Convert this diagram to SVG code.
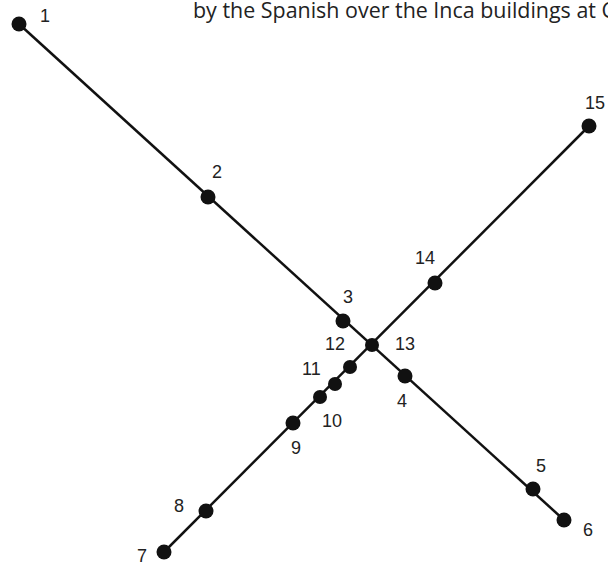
<svg xmlns="http://www.w3.org/2000/svg" width="608" height="565" viewBox="0 0 608 565">
<style>
.ln{stroke:#111;stroke-width:2.5;fill:none}
.dot{fill:#111}
.lbl{font-family:"Liberation Sans","DejaVu Sans",sans-serif;font-size:18px;fill:#222}
.cap{font-family:"Open Sans","Liberation Sans",sans-serif;font-size:21px;fill:#222}
</style>
<rect width="608" height="565" fill="#fff"/>
<text class="cap" x="193" y="18" textLength="422" lengthAdjust="spacingAndGlyphs">by the Spanish over the Inca buildings at C</text>
<g id="connectors">
<line class="ln" x1="19" y1="24" x2="564" y2="520"/>
<line class="ln" x1="164" y1="552" x2="589" y2="126"/>
</g>
<g id="n1"><circle class="dot" cx="19" cy="24" r="7.5"/><text class="lbl" x="40" y="22">1</text></g>
<g id="n2"><circle class="dot" cx="208" cy="197" r="7.5"/><text class="lbl" x="212" y="178">2</text></g>
<g id="n3"><circle class="dot" cx="343" cy="321" r="7.5"/><text class="lbl" x="343" y="303">3</text></g>
<g id="n4"><circle class="dot" cx="405" cy="376" r="7.5"/><text class="lbl" x="397" y="407">4</text></g>
<g id="n5"><circle class="dot" cx="533" cy="489" r="7.5"/><text class="lbl" x="536" y="472">5</text></g>
<g id="n6"><circle class="dot" cx="564" cy="520" r="7.5"/><text class="lbl" x="583" y="536">6</text></g>
<g id="n7"><circle class="dot" cx="164" cy="552" r="7.5"/><text class="lbl" x="137" y="562">7</text></g>
<g id="n8"><circle class="dot" cx="206" cy="511" r="7.5"/><text class="lbl" x="174" y="512">8</text></g>
<g id="n9"><circle class="dot" cx="293" cy="423" r="7.5"/><text class="lbl" x="291" y="454">9</text></g>
<g id="n10"><circle class="dot" cx="320" cy="397" r="7"/><text class="lbl" x="322" y="427">10</text></g>
<g id="n11"><circle class="dot" cx="335" cy="384" r="7"/><circle class="dot" cx="350" cy="367" r="7"/><text class="lbl" x="302" y="375">11</text></g>
<g id="n12"><circle class="dot" cx="372" cy="345" r="7"/><text class="lbl" x="325" y="350">12</text></g>
<g id="n13"><text class="lbl" x="395" y="350">13</text></g>
<g id="n14"><circle class="dot" cx="435" cy="283" r="7.5"/><text class="lbl" x="415" y="264">14</text></g>
<g id="n15"><circle class="dot" cx="589" cy="126" r="7.5"/><text class="lbl" x="585" y="109">15</text></g>
</svg>
